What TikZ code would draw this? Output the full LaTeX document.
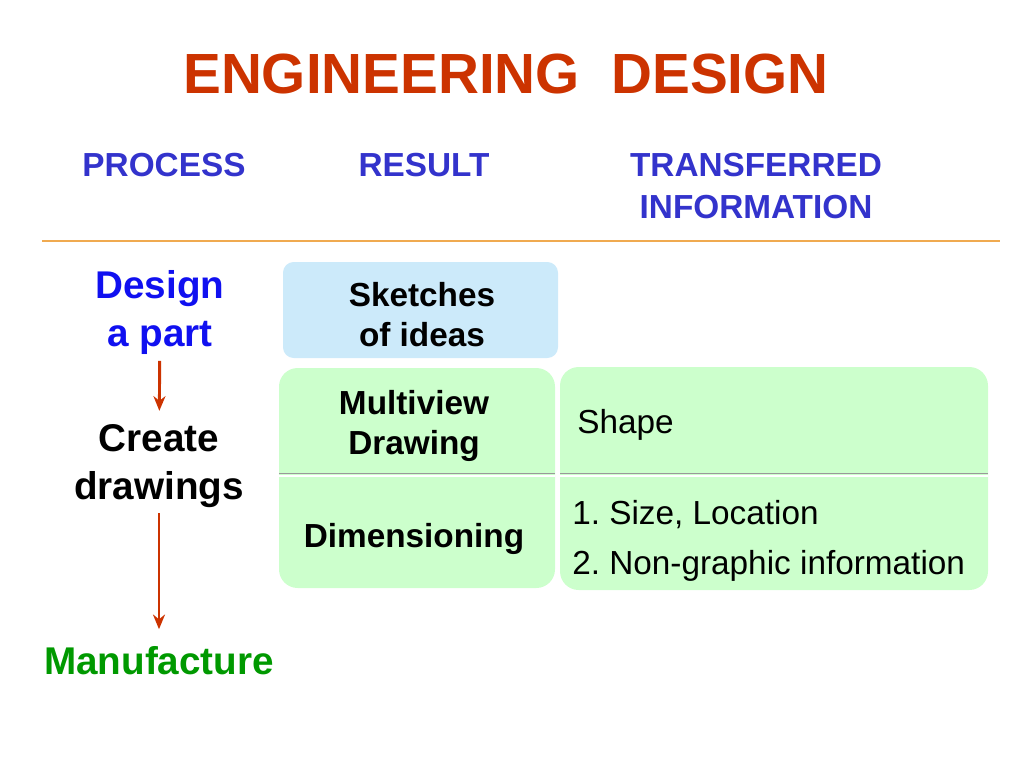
\documentclass[tikz,border=0pt]{standalone}
\usepackage{fontspec}
\setmainfont{Liberation Sans}
\usetikzlibrary{arrows.meta,positioning}

\definecolor{titlered}{RGB}{204,51,0}
\definecolor{headblue}{RGB}{51,51,204}
\definecolor{procblue}{RGB}{16,16,240}
\definecolor{mangreen}{RGB}{0,153,0}
\definecolor{rulegold}{RGB}{240,170,80}
\definecolor{sketchblue}{RGB}{204,234,250}
\definecolor{boxgreen}{RGB}{204,255,204}
\definecolor{arrowred}{RGB}{204,51,0}
\frenchspacing

\begin{document}
\begin{tikzpicture}[x=0.75pt,y=-0.75pt,
	head/.style={text=headblue,font=\fontsize{25}{31}\selectfont\bfseries,align=center,inner sep=0pt},
	proc/.style={font=\fontsize{29}{36}\selectfont\bfseries,align=center,inner sep=0pt},
	result/.style={font=\fontsize{25}{30}\selectfont\bfseries,align=center,inner sep=0pt},
	info/.style={font=\fontsize{25}{38}\selectfont,align=left,anchor=west,inner sep=0pt},
	flow/.style={draw=arrowred,line width=2.2pt,-{Stealth[length=11pt,width=9pt]}}]
		\useasboundingbox (0,0) rectangle (1024,768);
		%% the title and the column heads
		\node[text=titlered,font=\fontsize{42.5}{50}\selectfont\bfseries,inner sep=0pt] (title) at (506,74) {ENGINEERING\ \ DESIGN};
		\node[head] (process) at (164,165) {PROCESS};
		\node[head] (result) at (424,165) {RESULT};
		\node[head] (transfer) at (756,186) {TRANSFERRED\\INFORMATION};
		\draw[rulegold,line width=1.5pt] (42,241) -- (1000,241);
		% the boxes
		\fill[sketchblue,rounded corners=8pt] (283,262) rectangle (558,358);
		\fill[boxgreen,rounded corners=14pt] (279,368) rectangle (555,588);
		\fill[boxgreen,rounded corners=14pt] (560,367) rectangle (988,590);
		\draw[gray!80,line width=0.6pt] (279,473) -- (555,473) (560,473) -- (988,473);
		\draw[white,line width=1pt] (279,476) -- (555,476) (560,476) -- (988,476);
		%% the process column
		\node[proc,text=procblue] (design) at (160,312) {Design\\a part};
		\node[proc] (create) at (159,466) {Create\\drawings};
		\node[proc,text=mangreen] (manufacture) at (159,661) {Manufacture};
		\draw[flow,shorten <=5pt,shorten >=10pt] (design) -- (create);
		\draw[flow,shorten <=4pt,shorten >=13pt] (create) -- (manufacture);
		%% the result column
		\node[result] (sketches) at (422,315) {Sketches\\of ideas};
		\node[result] (multiview) at (414,426) {Multiview\\Drawing};
		\node[result] (dimension) at (414,539) {Dimensioning};
		%% the transferred information
		\node[info] (shape) at (577,425) {Shape};
		\node[info] (sizes) at (572,541) {1. Size, Location\\2. Non-graphic information};
		\end{tikzpicture}
\end{document}
